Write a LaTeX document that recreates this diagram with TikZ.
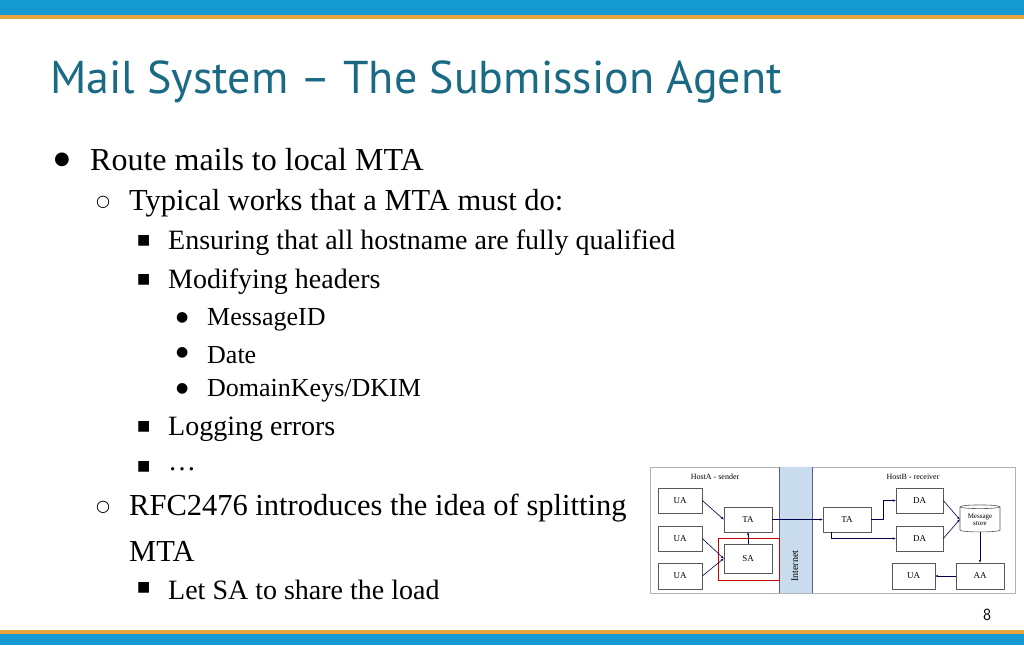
\documentclass[tikz,border=0pt]{standalone}
\usepackage{fontspec}
\setmainfont{Liberation Serif}
\newfontfamily\titlefont{PT Sans}
\newfontfamily\symfont{DejaVu Sans}
\usetikzlibrary{shapes.geometric,arrows.meta}
\definecolor{topblue}{HTML}{1499D1}
\definecolor{barorange}{HTML}{E8A33A}
\definecolor{titlecol}{HTML}{1B6A85}
\definecolor{netblue}{HTML}{C9DCEE}
\begin{document}
\begin{tikzpicture}[x=1pt,y=-1pt,
  txt/.style={anchor=west,inner sep=0pt,font=\fontsize{#1}{#1}\selectfont},
  bx/.style={draw=gray!70!black,fill=white,line width=0.6pt,inner sep=0pt,font=\fontsize{9}{9}\selectfont},
  arr/.style={-{Stealth[length=3pt]},draw=black!70!blue,line width=0.6pt}]
\useasboundingbox (0,0) rectangle (1024,645);
\fill[topblue] (0,0) rectangle (1024,15);
\fill[barorange] (0,15) rectangle (1024,19);
\fill[barorange] (0,630) rectangle (1024,634);
\fill[topblue] (0,634) rectangle (1024,645);
\node[txt=46,text=titlecol,font=\titlefont\fontsize{46}{46}\selectfont] (title) at (50,82) {Mail System – The Submission Agent};
% bullets
\node[txt=22] (b1) at (54,160) {\symfont\fontsize{18}{18}\selectfont ●};
\node[txt=32] (t1) at (90,160) {Route mails to local MTA};
\node[txt=18] (b2) at (96,202) {\symfont\fontsize{16}{16}\selectfont ○};
\node[txt=30.5] (t2) at (129,203) {Typical works that a MTA must do:};
\foreach \y/\s in {240/{Ensuring that all hostname are fully qualified},279/{Modifying headers},426/{Logging errors},466/{\dots},587/{Let SA to share the load}}{
  \node[txt=12] at (137,\y+1) {\symfont\fontsize{14}{14}\selectfont ■};
  \node[txt=28] at (168,\y+3) {\s};}
\foreach \y/\s in {317/{MessageID},352/{Date},388/{DomainKeys/DKIM}}{
  \node[txt=12] at (176,\y+1) {\symfont\fontsize{14}{14}\selectfont ●};
  \node[txt=26] at (207,\y+3) {\s};}
\node[txt=18] (b3) at (96,507) {\symfont\fontsize{16}{16}\selectfont ○};
\node[txt=30.5] (t3) at (129,508) {RFC2476 introduces the idea of splitting};
\node[txt=30.5] (t4) at (129,551) {MTA};
\node[txt=17,font=\sffamily\fontsize{17}{17}\selectfont] (pg) at (983,615) {8};
% diagram
\draw[gray!60,fill=white,line width=0.6pt] (650,467) rectangle (1015,593);
\fill[netblue] (779,467) rectangle (812,593);
\draw[gray!70!blue,line width=0.8pt] (779,467) -- (779,593) (812,467) -- (812,593);
\node[rotate=90,font=\fontsize{10}{10}\selectfont] (inet) at (795,566) {Internet};
\node[font=\fontsize{8}{8}\selectfont] (ha) at (715,477) {HostA - sender};
\node[font=\fontsize{8}{8}\selectfont] (hb) at (913,477) {HostB - receiver};
\draw[red!80!black,line width=0.8pt] (718,538) rectangle (779,580);
\node[bx,minimum width=44,minimum height=25] (ua1) at (680,500.5) {UA};
\node[bx,minimum width=44,minimum height=25] (ua2) at (680,538.5) {UA};
\node[bx,minimum width=44,minimum height=26] (ua3) at (680,576) {UA};
\node[bx,minimum width=48,minimum height=25] (tal) at (748,519.5) {TA};
\node[bx,minimum width=48,minimum height=29] (sa) at (748,558.5) {SA};
\node[bx,minimum width=48,minimum height=25] (tar) at (847,519.5) {TA};
\node[bx,minimum width=47,minimum height=25] (da1) at (919.5,500.5) {DA};
\node[bx,minimum width=47,minimum height=25] (da2) at (919.5,538.5) {DA};
\node[bx,cylinder,shape border rotate=90,aspect=0.15,minimum width=40,minimum height=27,align=center,font=\fontsize{7}{7.5}\selectfont] (ms) at (980,519.5) {Message\\store};
\node[bx,minimum width=48,minimum height=26] (aa) at (980,576) {AA};
\node[bx,minimum width=43,minimum height=26] (ua4) at (913.5,576) {UA};
\draw[arr] (ua1.east) -- (tal.west);
\draw[arr] (ua2.east) -- (sa.west);
\draw[arr] (ua3.east) -- (sa.west);
\draw[arr] (sa.north) -- (tal.south);
\draw[arr] (tal.east) -- (tar.west);
\draw[arr] (tar.east) -- ++(12,0) |- (da1.west);
\draw[arr] ([xshift=-16]tar.south) |- (da2.west);
\draw[arr] (da1.east) -- (ms.west);
\draw[arr] (da2.east) -- (ms.west);
\draw[arr] (ms.south) -- (aa.north);
\draw[arr] (aa.west) -- (ua4.east);
\end{tikzpicture}
\end{document}
